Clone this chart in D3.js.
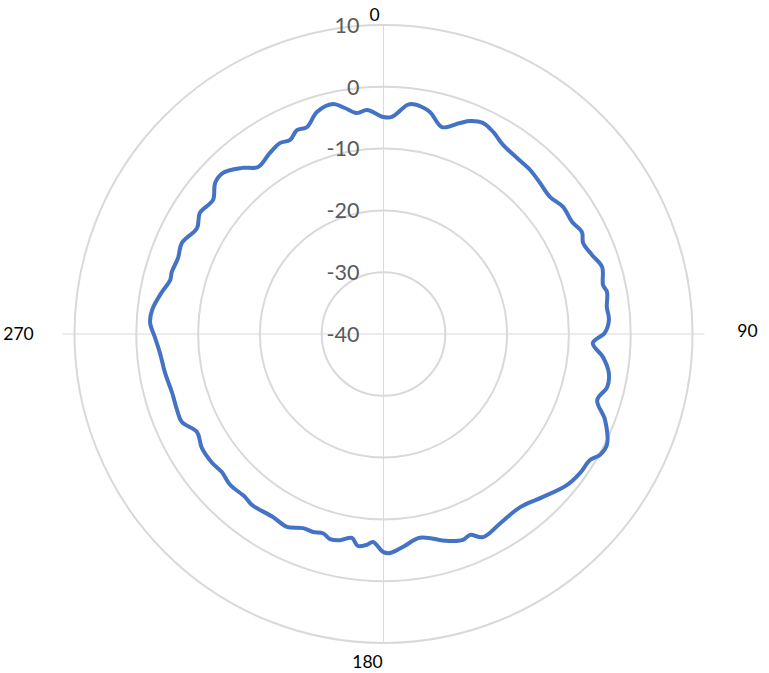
<!DOCTYPE html>
<html>
<head>
<meta charset="utf-8">
<script src="https://cdn.jsdelivr.net/npm/d3@7"></script>
<style>
  html, body { margin: 0; padding: 0; background: #fff; }
  svg { display: block; }
</style>
</head>
<body>
<svg id="chart" width="769" height="673"></svg>
<script>
// Angle categories (degrees, clockwise from top)
const angles = [0, 2.2, 5.9, 7.3, 8.3, 11.8, 15.8, 19.9, 22.1, 25.2, 28.5, 32.3, 37.2, 41.8, 46.0, 50.5,
  54.7, 59.3, 62.8, 65.5, 69.3, 73.0, 77.4, 79.4, 83.1, 86.4, 89.7, 92.5, 96.0, 99.8, 103.3, 107.2,
  111.2, 116.4, 119.2, 121.4, 125.3, 129.5, 135.6, 141.7, 148.4, 153.9, 156.7, 158.9, 163.0, 169.9,
  174.8, 178.3, 180.0, 182.9, 184.5, 186.9, 188.8, 191.9, 194.6, 196.9, 199.6, 202.5, 206.6, 211.1,
  217.6, 220.4, 225.5, 229.5, 233.1, 237.9, 242.3, 246.4, 249.8, 254.4, 259.9, 265.1, 269.2, 272.7,
  275.9, 280.7, 284.2, 286.3, 290.3, 294.3, 299.6, 303.4, 308.2, 311.9, 315.1, 319.6, 323.1, 327.9,
  331.5, 334.3, 337.0, 339.7, 343.3, 347.6, 350.3, 353.2, 355.8];
// Series values (dB)
const values = [-4.9, -4.85, -2.75, -2.5, -2.55, -3.3, -5.2, -3.7, -2.8, -2.25, -2.8, -3.8, -4.25, -4.4, -4.8, -5.1,
  -4.4, -4.5, -3.9, -4.5, -3.9, -3.0, -3.6, -3.2, -3.6, -3.45, -4.2, -6.1, -4.3, -3.0, -2.8, -3.8,
  -1.55, 0.35, 0.1, -0.85, -1.05, -1.55, -3.1, -4.3, -4.0, -3.4, -4.6, -4.3, -5.0, -6.5,
  -5.4, -4.55, -4.7, -6.3, -5.8, -5.45, -6.6, -5.9, -5.7, -6.3, -6.0, -6.0, -5.1, -5.4,
  -5.1, -5.4, -5.2, -5.6, -5.3, -5.3, -5.9, -4.4, -4.4, -4.5, -4.1, -3.7, -3.0, -2.2,
  -2.35, -3.5, -4.4, -4.3, -4.55, -4.2, -5.3, -4.4, -4.9, -3.4, -3.2, -4.7, -6.2, -5.4,
  -4.85, -5.15, -4.15, -4.3, -2.5, -1.9, -2.9, -4.0, -3.65];
// Tick labels
const radialTicks = [-40, -30, -20, -10, 0, 10];
const angleTicks = [0, 90, 180, 270];

const svg = d3.select("#chart");
const cx = 383.5, cy = 334;
const rScale = d3.scaleLinear().domain([-40, 10]).range([0, 309]);
const aScale = d3.scaleLinear().domain([0, 360]).range([0, 2 * Math.PI]);

const g = svg.append("g").attr("transform", `translate(${cx},${cy})`);

// rings
g.selectAll("circle.ring")
  .data(radialTicks.filter(d => d > -40))
  .enter().append("circle")
  .attr("r", d => rScale(d))
  .attr("fill", "none")
  .attr("stroke", "#d9d9d9")
  .attr("stroke-width", 2);

// spokes
const rMax = rScale(10);
g.append("line").attr("x1", 0).attr("x2", 0).attr("y1", -rMax).attr("y2", rMax)
  .attr("stroke", "#d9d9d9").attr("stroke-width", 1);
g.append("line").attr("x1", -rMax - 12).attr("x2", rMax + 12).attr("y1", 0).attr("y2", 0)
  .attr("stroke", "#d9d9d9").attr("stroke-width", 1);

// radial tick labels
g.selectAll("text.rt")
  .data(radialTicks)
  .enter().append("text")
  .attr("x", -24)
  .attr("y", d => -rScale(d))
  .attr("dy", "0.36em")
  .attr("text-anchor", "end")
  .attr("fill", "#595959")
  .attr("font-family", "Lato, 'Open Sans', sans-serif")
  .attr("font-size", 21.5)
  .text(d => d);

// angle labels
const angPos = {0: [-9, -rMax - 10], 90: [rMax + 55, -3], 180: [-16, rMax + 19], 270: [-rMax - 56, 0]};
g.selectAll("text.at")
  .data(angleTicks)
  .enter().append("text")
  .attr("x", d => angPos[d][0])
  .attr("y", d => angPos[d][1])
  .attr("dy", "0.36em")
  .attr("text-anchor", "middle")
  .attr("fill", "#000")
  .attr("font-family", "Lato, 'Open Sans', sans-serif")
  .attr("font-size", 17.5)
  .text(d => d);

// data line
const pts = angles.map((a, i) => [aScale(a), rScale(values[i])]);
const line = d3.lineRadial()
  .angle(d => d[0])
  .radius(d => d[1])
  .curve(d3.curveCatmullRomClosed.alpha(0.5));
g.append("path")
  .attr("d", line(pts))
  .attr("fill", "none")
  .attr("stroke", "#4472C4")
  .attr("stroke-width", 4)
  .attr("stroke-linejoin", "round");
</script>
</body>
</html>
